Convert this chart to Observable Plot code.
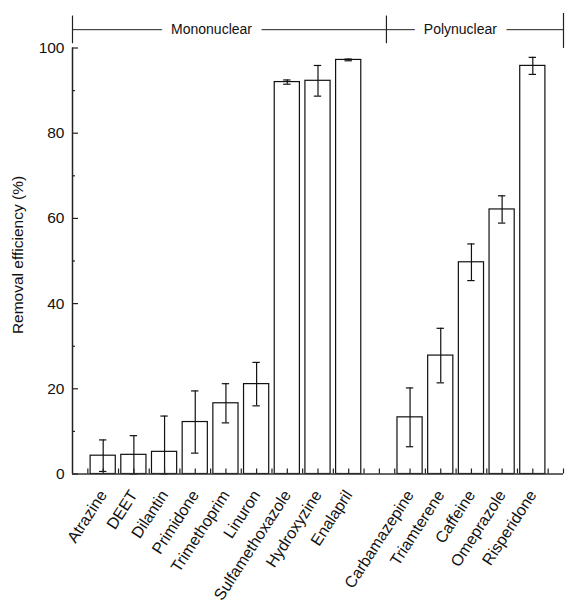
<!DOCTYPE html>
<html>
<head>
<meta charset="utf-8">
<script src="https://cdn.jsdelivr.net/npm/d3@7"></script>
<script src="https://cdn.jsdelivr.net/npm/@observablehq/plot@0.6"></script>
<style>
  html, body { margin: 0; padding: 0; background: #fff; }
  #chart svg { display: block; font-family: "Liberation Sans", Arial, sans-serif; }
</style>
</head>
<body>
<div id="chart"></div>
<script>
// ---- data ----
const categories = ["Atrazine", "DEET", "Dilantin", "Primidone", "Trimethoprim", "Linuron",
  "Sulfamethoxazole", "Hydroxyzine", "Enalapril",
  "Carbamazepine", "Triamterene", "Caffeine", "Omeprazole", "Risperidone"];
const groups = ["Mononuclear", "Mononuclear", "Mononuclear", "Mononuclear", "Mononuclear", "Mononuclear",
  "Mononuclear", "Mononuclear", "Mononuclear",
  "Polynuclear", "Polynuclear", "Polynuclear", "Polynuclear", "Polynuclear"];
const removal = [4.3, 4.5, 5.2, 12.2, 16.6, 21.1, 92.0, 92.3, 97.2, 13.3, 27.8, 49.7, 62.1, 95.8];
const errors  = [3.7, 4.5, 8.4, 7.3, 4.6, 5.1, 0.5, 3.6, 0.2, 6.9, 6.4, 4.3, 3.2, 2.0];
const yTicks = [0, 20, 40, 60, 80, 100];
const yMinor = [10, 30, 50, 70, 90];
const groupNames = ["Mononuclear", "Polynuclear"];
const yLabel = "Removal efficiency (%)";

// ---- build table ----
const groupIndex = g => groupNames.indexOf(g);
const data = categories.map((c, i) => ({
  name: c,
  group: groups[i],
  pos: i + 1 + groupIndex(groups[i]),   // one empty slot between the groups
  value: removal[i],
  lo: Math.max(0, removal[i] - errors[i]),
  hi: removal[i] + errors[i]
}));
const nSlots = d3.max(data, d => d.pos) + 1;
const halfTicks = d3.range(1, nSlots * 2 + 1).map(k => k / 2);

// group bracket geometry (derived from slot positions)
const firstEnd = d3.max(data.filter(d => d.group === groupNames[0]), d => d.pos) + 1.23;
const dividers = [0, firstEnd, nSlots];
const labelX = [4.53, 12.64];
const bracketY = 104.3;

const font = "Liberation Sans, Arial, sans-serif";
const capW = 0.12, barHalf = 0.41;

const chart = Plot.plot({
  width: 570,
  height: 600,
  marginLeft: 72,
  marginRight: 7,
  marginTop: 47.5,
  marginBottom: 126.5,
  style: { fontFamily: font, background: "white", overflow: "visible" },
  x: { domain: [0, nSlots], axis: null },
  y: { domain: [0, 100], axis: null },
  marks: [
    // bars
    Plot.rect(data, { x1: d => d.pos - barHalf, x2: d => d.pos + barHalf, y1: 0, y2: "value",
      fill: "white", stroke: "#111", strokeWidth: 1.2 }),
    // error bars
    Plot.ruleX(data, { x: "pos", y1: "lo", y2: "hi", stroke: "#111", strokeWidth: 1.2 }),
    Plot.ruleY(data, { y: "hi", x1: d => d.pos - capW, x2: d => d.pos + capW, stroke: "#111", strokeWidth: 1.2 }),
    Plot.ruleY(data, { y: "lo", x1: d => d.pos - capW, x2: d => d.pos + capW, stroke: "#111", strokeWidth: 1.2 }),
    // axes lines
    Plot.ruleX([0], { y1: 0, y2: 100, stroke: "#222", strokeWidth: 1.5 }),
    Plot.ruleY([0], { x1: 0, x2: nSlots, stroke: "#333", strokeWidth: 1.6 }),
    // x ticks (inward)
    Plot.ruleX(halfTicks, { x: d => d, y1: 0, y2: 0, insetTop: -5, stroke: "#222", strokeWidth: 1.2 }),
    // y ticks (inward)
    Plot.ruleY(yTicks, { y: d => d, x1: 0, x2: 0, insetRight: -6, stroke: "#222", strokeWidth: 1.2 }),
    Plot.ruleY(yMinor, { y: d => d, x1: 0, x2: 0, insetRight: -3, stroke: "#222", strokeWidth: 1.2 }),
    // y tick labels
    Plot.text(yTicks, { x: 0, y: d => d, text: d => String(d), textAnchor: "end", dx: -8, fontSize: 15.5, fill: "#111" }),
    // category labels
    Plot.text(data, { x: "pos", y: 0, text: "name", rotate: -57, textAnchor: "end", dx: 0, dy: 18, fontSize: 16, fill: "#111" }),
    // y label
    Plot.text([yLabel], { frameAnchor: "left", textAnchor: "middle", dx: -54, dy: -6, rotate: -90, fontSize: 15.5, fill: "#111" }),
    // group bracket
    Plot.ruleY([bracketY], { x1: 0, x2: nSlots, stroke: "#222", strokeWidth: 1 }),
    Plot.ruleX(dividers, { x: d => d, y1: (d, i) => i === 2 ? 99.9 : 101, y2: (d, i) => i === 2 ? 108.1 : 107.5, stroke: "#222", strokeWidth: 1.2 }),
    Plot.text(groupNames, { x: (d, i) => labelX[i], y: bracketY, text: d => d, fontSize: 14, fill: "#111",
      stroke: "white", strokeWidth: 20, paintOrder: "stroke" })
  ]
});
document.getElementById("chart").appendChild(chart);
</script>
</body>
</html>
